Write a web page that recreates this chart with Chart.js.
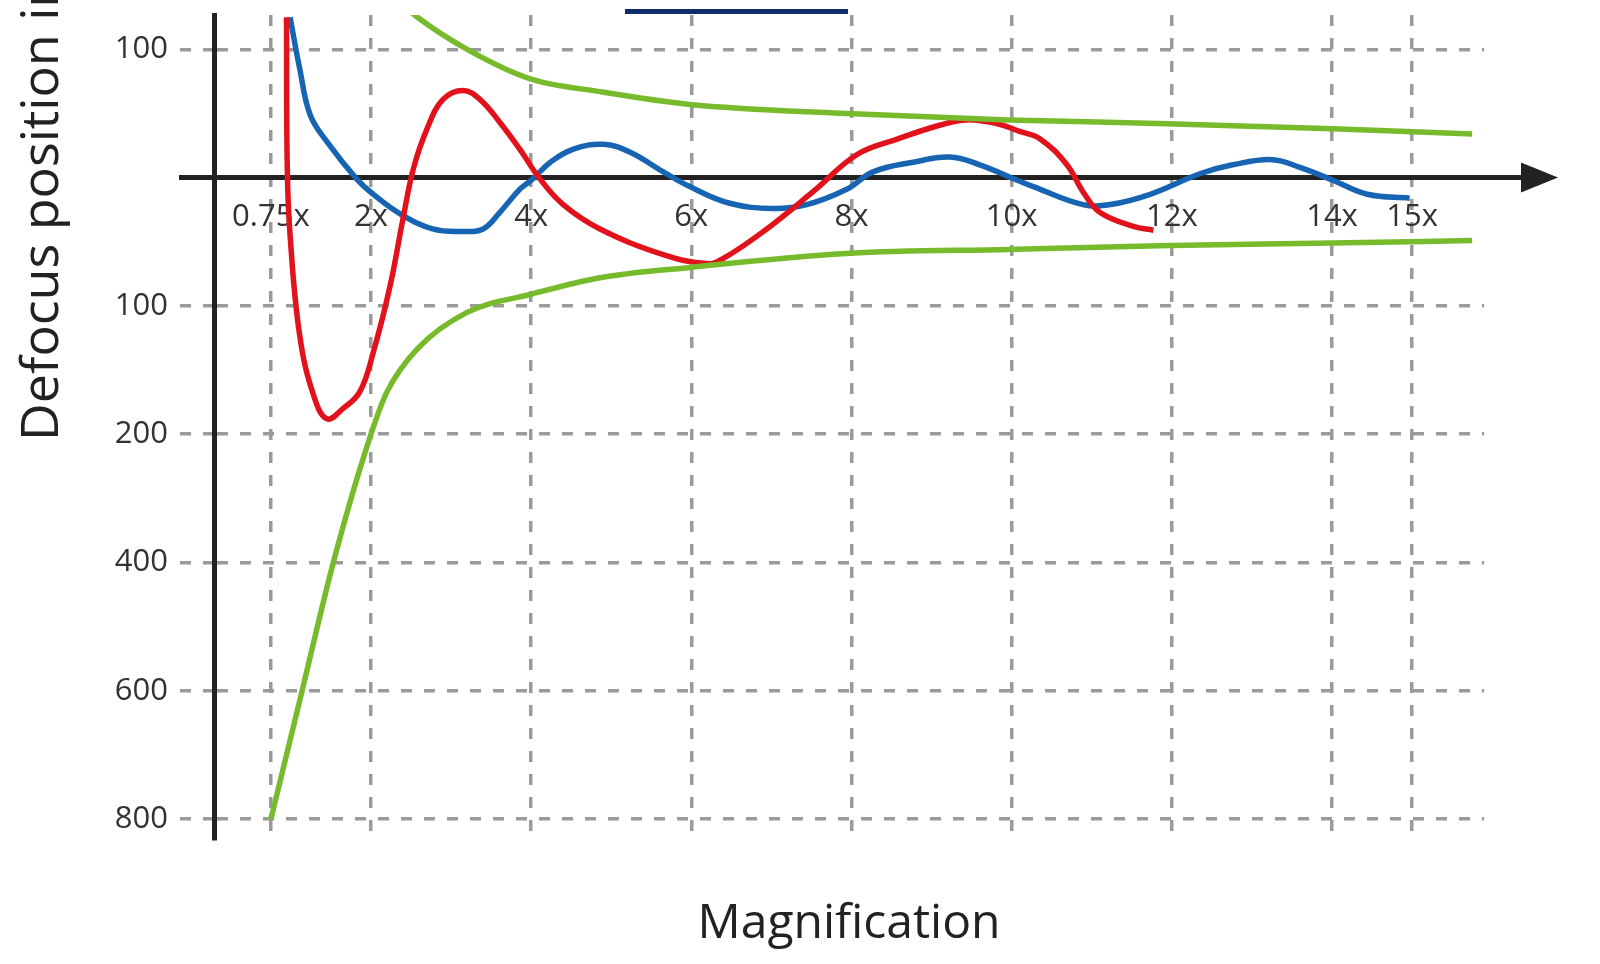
<!DOCTYPE html>
<html>
<head>
<meta charset="utf-8">
<script src="https://cdn.jsdelivr.net/npm/chart.js@4.4.0/dist/chart.umd.min.js"></script>
<style>
  html, body { margin: 0; padding: 0; background: #fff; }
</style>
</head>
<body>
<canvas id="defocusChart" width="1600" height="964"></canvas>
<script>
// ticks: x = magnification, y = grid steps (0 = axis, up positive)
var xTicks = [0.75, 2, 4, 6, 8, 10, 12, 14, 15];
var yTicks = [1, -1, -2, -3, -4, -5];
var yTickLabels = ["100", "100", "200", "400", "600", "800"];

// blue curve
var blueX = [0.99, 1.11, 1.24, 1.45, 1.82, 2.03, 2.36, 2.77, 3.15, 3.40, 3.61, 3.86, 4.02, 4.24, 4.52, 4.90, 5.23, 5.65, 5.98, 6.48, 7.02, 7.44, 7.94, 8.27, 8.77, 9.23, 9.60, 10.07, 10.27, 10.89, 11.23, 11.73, 12.35, 12.76, 13.26, 13.60, 14.01, 14.44, 14.97];
var blueY = [1.25, 0.85, 0.49, 0.28, -0.01, -0.13, -0.28, -0.40, -0.42, -0.40, -0.27, -0.09, -0.01, 0.12, 0.22, 0.26, 0.20, 0.045, -0.07, -0.20, -0.24, -0.21, -0.09, 0.045, 0.12, 0.16, 0.10, -0.02, -0.07, -0.21, -0.21, -0.13, 0.03, 0.10, 0.14, 0.08, -0.02, -0.13, -0.16];

// red curve
var redX = [0.945, 0.955, 0.99, 1.11, 1.28, 1.45, 1.65, 1.86, 2.03, 2.24, 2.40, 2.53, 2.70, 2.90, 3.15, 3.36, 3.61, 3.86, 4.11, 4.40, 4.86, 5.65, 6.20, 6.40, 6.90, 7.52, 8.07, 8.57, 9.11, 9.44, 9.82, 10.10, 10.36, 10.69, 10.89, 11.10, 11.52, 11.77];
var redY = [1.25, 0.07, -0.45, -1.23, -1.69, -1.88, -1.80, -1.67, -1.36, -0.84, -0.32, 0.07, 0.38, 0.61, 0.68, 0.61, 0.43, 0.22, -0.01, -0.21, -0.40, -0.60, -0.67, -0.63, -0.42, -0.11, 0.18, 0.30, 0.41, 0.45, 0.42, 0.36, 0.30, 0.10, -0.11, -0.27, -0.38, -0.41];

// green limits
var greenUpX = [2.2, 2.58, 3.20, 3.99, 4.86, 5.98, 7.94, 9.95, 11.94, 14.01, 15.75];
var greenUpY = [1.45, 1.25, 1.00, 0.77, 0.67, 0.57, 0.50, 0.45, 0.42, 0.38, 0.34];
var greenLowX = [0.75, 1.14, 1.53, 2.0, 2.20, 2.57, 3.20, 3.99, 4.86, 5.98, 7.98, 9.95, 11.98, 14.0, 15.75];
var greenLowY = [-5.0, -4.0, -3.0, -2.0, -1.67, -1.34, -1.05, -0.91, -0.78, -0.70, -0.59, -0.56, -0.53, -0.51, -0.49];

function puntos(xs, ys) {
    return xs.map(function (x, i) { return { x: x, y: ys[i] }; });
}

function serie(xs, ys, color, suave) {
    var ds = {
        data: puntos(xs, ys),
        borderColor: color,
        borderWidth: 5.5,
        pointRadius: 0,
        fill: false,
        tension: 0.4
    };
    if (suave) {
        ds.cubicInterpolationMode = 'monotone';
    }
    return ds;
}

var gris = '#9a9a9a';
var tickFont = { family: '"Open Sans", sans-serif', size: 31 };

// axis extension, arrow and texts
var decor = {
    id: 'decor',
    beforeDatasetsDraw: function (chart) {
        var ctx = chart.ctx;
        var area = chart.chartArea;
        var y0 = chart.scales.y.getPixelForValue(0);
        ctx.save();
        ctx.strokeStyle = '#222';
        ctx.lineWidth = 5;
        ctx.beginPath();
        ctx.moveTo(area.left - 35, y0);
        ctx.lineTo(area.left, y0);
        ctx.moveTo(area.right, y0);
        ctx.lineTo(area.right + 40, y0);
        ctx.stroke();
        ctx.fillStyle = '#222';
        ctx.beginPath();
        ctx.moveTo(area.right + 37, y0 - 15);
        ctx.lineTo(area.right + 74, y0);
        ctx.lineTo(area.right + 37, y0 + 15);
        ctx.closePath();
        ctx.fill();
        ctx.restore();
    },
    afterDraw: function (chart) {
        var ctx = chart.ctx;
        ctx.save();
        ctx.fillStyle = '#0f2d6b';
        ctx.fillRect(625, 9, 223, 5);
        ctx.fillStyle = '#222';
        ctx.font = '48px "Open Sans", sans-serif';
        ctx.textAlign = 'center';
        ctx.textBaseline = 'alphabetic';
        ctx.fillText('Magnification', 849, 938);
        ctx.translate(58, 441);
        ctx.rotate(-Math.PI / 2);
        ctx.font = '52px "Open Sans", sans-serif';
        ctx.textAlign = 'left';
        ctx.fillText('Defocus position in \u00b5m', 0, 0);
        ctx.restore();
    }
};

var ctxD = document.getElementById('defocusChart').getContext('2d');
var myChart = new Chart(ctxD, {
    type: 'line',
    data: {
        datasets: [
            serie(greenUpX, greenUpY, '#77bb2c', true),
            serie(greenLowX, greenLowY, '#77bb2c', true),
            serie(redX, redY, '#e1121c', false),
            serie(blueX, blueY, '#1764b2', false)
        ]
    },
    options: {
        responsive: false,
        animation: false,
        layout: { padding: { left: 0, top: 15, right: 116, bottom: 125 } },
        plugins: {
            legend: { display: false },
            tooltip: { enabled: false }
        },
        scales: {
            x: {
                type: 'linear',
                position: { y: 0 },
                min: 0.04,
                max: 15.898,
                afterBuildTicks: function (s) {
                    s.ticks = xTicks.map(function (v) { return { value: v }; });
                },
                afterFit: function (s) {
                    s.paddingLeft = 0;
                    s.paddingRight = 0;
                },
                ticks: {
                    callback: function (v) { return v + 'x'; },
                    padding: 21,
                    font: tickFont,
                    color: '#333',
                    maxRotation: 0,
                    autoSkip: false
                },
                grid: { color: gris, lineWidth: 3.5, drawTicks: false },
                border: { color: '#222', width: 5, dash: [11, 12] }
            },
            y: {
                type: 'linear',
                min: -5.155,
                max: 1.2675,
                afterBuildTicks: function (s) {
                    s.ticks = yTicks.map(function (v) { return { value: v }; });
                },
                afterFit: function (s) {
                    s.width = 214;
                    s.paddingTop = 0;
                    s.paddingBottom = 0;
                },
                ticks: {
                    callback: function (v) {
                        var i = yTicks.indexOf(v);
                        return i >= 0 ? yTickLabels[i] : '';
                    },
                    padding: 12,
                    font: tickFont,
                    color: '#333'
                },
                grid: {
                    color: gris,
                    lineWidth: 3.5,
                    tickLength: 34,
                    tickColor: gris,
                    tickWidth: 3.5,
                    tickBorderDash: [11, 12]
                },
                border: { color: '#222', width: 5, dash: [11, 12] }
            }
        }
    },
    plugins: [decor]
});
</script>
</body>
</html>
